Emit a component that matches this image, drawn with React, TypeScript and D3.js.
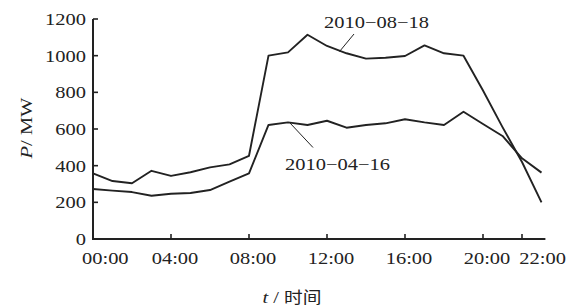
import React from "react";
import * as d3 from "d3";

const hours = [0, 1, 2, 3, 4, 5, 6, 7, 8, 9, 10, 11, 12, 13, 14, 15, 16, 17, 18, 19, 20, 21, 22, 23];
const seriesAug18 = [358, 316, 304, 372, 344, 364, 391, 407, 454, 1000, 1018, 1114, 1053, 1013, 984, 989, 998, 1056, 1013, 1000, 810, 610, 420, 200];
const seriesApr16 = [273, 264, 256, 236, 247, 251, 267, 313, 358, 622, 636, 622, 645, 607, 622, 631, 653, 636, 622, 694, 627, 562, 440, 362];
const xTickValues = [0, 4, 8, 12, 16, 20, 22];
const xTickLabels = ["00:00", "04:00", "08:00", "12:00", "16:00", "20:00", "22:00"];
const yTickValues = [0, 200, 400, 600, 800, 1000, 1200];
const labelAug = "2010\u221208\u221218";
const labelApr = "2010\u221204\u221216";

const W = 573;
const H = 308;
const FONT = "'Liberation Serif', 'Times New Roman', serif";
const FS = 17.5;
const SX = 1.17;
const INK = "#222";

function T({ x, y, anchor = "start", children, rotate = 0, family = FONT, size = FS }: any) {
  return (
    <text
      transform={`translate(${x},${y}) rotate(${rotate}) scale(${SX},1)`}
      textAnchor={anchor}
      fontFamily={family}
      fontSize={size}
      fill={INK}
    >
      {children}
    </text>
  );
}

export default function App() {
  const x = d3.scaleLinear().domain([0, 23.2]).range([93, 545.4]);
  const y = d3.scaleLinear().domain([0, 1200]).range([239, 19]);
  const line = d3
    .line<number>()
    .x((_, i) => x(hours[i]))
    .y((d) => y(d));

  // x label layout: centred near ticks, first aligned left, last pushed to avoid overlap
  const labelW = (s: string) => s.length * 0 + 46.6;
  const lefts: number[] = [];
  xTickValues.forEach((v, i) => {
    const w = labelW(xTickLabels[i]);
    let left = x(v) + 4 - w / 2;
    if (i === 0) left = x(v) - 11;
    if (i > 0) {
      const prevRight = lefts[i - 1] + labelW(xTickLabels[i - 1]);
      if (left < prevRight + 9) left = prevRight + 9;
    }
    lefts.push(left);
  });

  return (
    <svg
      width={W}
      height={H}
      style={{ position: "absolute", left: 0, top: 0, background: "#fff" }}
    >
      <rect width={W} height={H} fill="#fff" />
      {/* data lines */}
      <path d={line(seriesAug18) || ""} fill="none" stroke={INK} strokeWidth={1.9} strokeLinejoin="round" />
      <path d={line(seriesApr16) || ""} fill="none" stroke={INK} strokeWidth={1.9} strokeLinejoin="round" />

      {/* axes */}
      <line x1={x(0)} x2={x(0)} y1={y(1200)} y2={y(0) + 1} stroke={INK} strokeWidth={2} />
      <line x1={x(0) - 1} x2={x(23.2)} y1={y(0)} y2={y(0)} stroke={INK} strokeWidth={2} />
      {yTickValues.map((v) => (
        <g key={"y" + v}>
          <line x1={x(0)} x2={x(0) + 5} y1={y(v)} y2={y(v)} stroke={INK} strokeWidth={1.6} />
          <T x={x(0) - 7} y={y(v) + 6} anchor="end">
            {String(v)}
          </T>
        </g>
      ))}
      {xTickValues.map((v, i) => (
        <g key={"x" + v}>
          {v > 0 && (
            <line x1={x(v)} x2={x(v)} y1={y(0)} y2={y(0) - 5} stroke={INK} strokeWidth={1.6} />
          )}
          <T x={lefts[i]} y={264}>
            {xTickLabels[i]}
          </T>
        </g>
      ))}

      {/* axis titles */}
      <T x={32} y={128} rotate={-90} anchor="middle">
        <tspan fontStyle="italic">P</tspan>
        <tspan>/ MW</tspan>
      </T>
      <text
        transform={`translate(292,303) scale(${SX},1)`}
        textAnchor="middle"
        fontFamily={FONT}
        fontSize={FS}
        fill={INK}
      >
        <tspan fontStyle="italic">t</tspan>
        <tspan> / </tspan>
        <tspan fontFamily="'Noto Sans CJK SC', sans-serif" fontSize={16}>时间</tspan>
      </text>

      {/* annotations */}
      <T x={324} y={28}>
        {labelAug}
      </T>
      <line x1={354} y1={34} x2={339.5} y2={51.5} stroke={INK} strokeWidth={1} />
      <T x={285} y={170}>
        {labelApr}
      </T>
      <line x1={290} y1={123} x2={313} y2={147.5} stroke={INK} strokeWidth={1} />
    </svg>
  );
}
